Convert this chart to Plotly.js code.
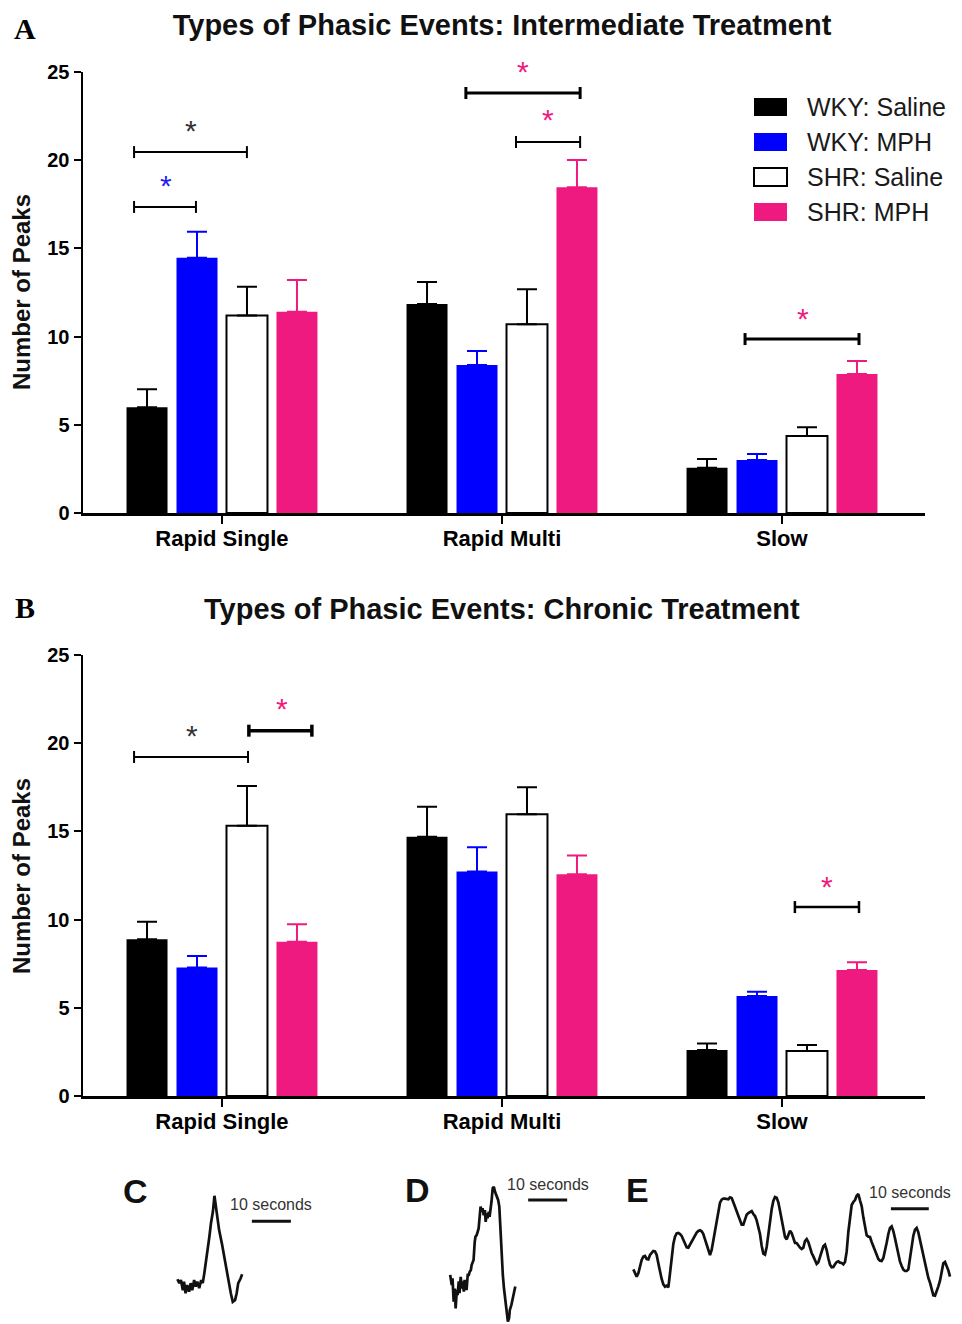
<!DOCTYPE html>
<html>
<head>
<meta charset="utf-8">
<script src="https://cdn.plot.ly/plotly-3.0.1.min.js"></script>
<style>html,body{margin:0;padding:0;background:#fff;}#chart{width:962px;height:1324px;}</style>
</head>
<body>
<div id="chart"></div>
<script>
// ---------------- DATA ----------------
const categories = ['Rapid Single', 'Rapid Multi', 'Slow'];
const seriesNames = ['WKY: Saline', 'WKY: MPH', 'SHR: Saline', 'SHR: MPH'];
const yTicks = [0, 5, 10, 15, 20, 25];

// Panel A: intermediate treatment (mean, upper SEM)
const interWkySaline = [6.0, 11.85, 2.57];
const interWkySalineErr = [1.01, 1.25, 0.49];
const interWkyMph = [14.47, 8.39, 3.0];
const interWkyMphErr = [1.48, 0.79, 0.34];
const interShrSaline = [11.19, 10.7, 4.37];
const interShrSalineErr = [1.64, 1.98, 0.49];
const interShrMph = [11.41, 18.46, 7.88];
const interShrMphErr = [1.8, 1.55, 0.74];

// Panel B: chronic treatment
const chronWkySaline = [8.88, 14.7, 2.61];
const chronWkySalineErr = [1.0, 1.7, 0.36];
const chronWkyMph = [7.29, 12.72, 5.67];
const chronWkyMphErr = [0.65, 1.38, 0.24];
const chronShrSaline = [15.32, 15.97, 2.55];
const chronShrSalineErr = [2.25, 1.53, 0.34];
const chronShrMph = [8.75, 12.57, 7.14];
const chronShrMphErr = [0.98, 1.07, 0.44];

// Example traces (time in seconds, signal in arbitrary units)
const cTime = [0.1,0.6,1.0,1.5,1.8,2.2,2.6,3.1,3.5,3.9,4.4,4.8,5.2,5.7,6.2,6.6,7.0,7.4,7.9,8.3,8.7,9.2,9.6,9.9,10.3,10.8,11.5,12.1,12.6,13.2,13.8,14.3,14.9,15.3,15.7,16.3,16.7];
const cSignal = [6.6,5.6,6.4,3.8,6.0,3.0,5.1,3.4,5.6,3.8,6.4,4.7,6.0,4.3,6.4,5.6,8.1,10.7,14.1,17.5,20.9,23.9,28.0,25.6,22.6,19.2,15.8,12.4,9.0,5.6,3.0,0.8,1.3,3.0,5.6,6.8,7.9];

const dTime = [0.3,0.7,0.9,1.2,1.5,1.7,2.0,2.2,2.5,2.7,3.0,3.3,3.5,3.8,4.0,4.3,4.5,4.8,5.1,5.3,5.6,5.8,6.1,6.3,6.6,6.8,7.1,7.4,7.6,7.9,8.1,8.4,8.6,8.9,9.2,9.4,9.7,9.9,10.2,10.4,10.7,10.9,11.2,11.5,11.8,12.2,12.6,12.9,13.1,13.3,13.6,13.8,14.1,14.4,14.6,14.9,15.1,15.4,15.6,16.0,16.3,16.7,17.0];
const dSignal = [12.6,10.0,11.7,5.7,9.1,4.0,8.7,7.4,10.9,7.9,12.1,9.1,10.9,8.3,11.3,9.6,8.7,12.6,12.6,13.4,13.8,15.1,16.0,16.4,21.1,22.4,22.8,23.7,24.5,27.9,30.1,28.8,29.7,27.9,29.2,26.2,28.4,27.1,28.8,27.5,29.7,31.4,34.8,35.2,33.9,32.6,31.8,30.1,25.4,21.1,16.8,12.6,9.1,6.6,4.0,1.9,0.6,1.5,3.6,4.9,6.6,8.7,9.6];

const eTime = [0,0.44,0.88,1.32,1.76,2.2,2.64,3.08,3.52,3.96,
4.4,4.84,5.28,5.72,6.16,6.6,7.04,7.48,7.92,8.36,
8.8,9.24,9.68,10.12,10.56,11,11.44,11.88,12.32,12.76,
13.2,13.64,14.08,14.52,14.96,15.4,15.84,16.28,16.72,17.16,
17.6,18.04,18.48,18.92,19.36,19.8,20.24,20.68,21.12,21.56,
22,22.44,22.88,23.32,23.76,24.2,24.64,25.08,25.52,25.96,
26.4,26.84,27.28,27.72,28.16,28.6,29.04,29.48,29.92,30.36,
30.8,31.24,31.68,32.12,32.56,33,33.44,33.88,34.32,34.76,
35.2,35.64,36.08,36.52,36.96,37.4,37.84,38.28,38.72,39.16,
39.6,40.04,40.48,40.92,41.36,41.8,42.24,42.68,43.12,43.56,
44,44.44,44.88,45.32,45.76,46.2,46.64,47.08,47.52,47.96,
48.4,48.84,49.28,49.72,50.16,50.6,51.04,51.48,51.92,52.36,
52.8,53.24,53.68,54.12,54.56,55,55.44,55.88,56.32,56.76,
57.2,57.64,58.08,58.52,58.96,59.4,59.84,60.28,60.72,61.16,
61.6,62.04,62.48,62.92,63.36,63.8,64.24,64.68,65.12,65.56,
66,66.44,66.88,67.32,67.76,68.2,68.64,69.08,69.52,69.96,
70.4,70.84,71.28,71.72,72.16,72.6,73.04,73.48,73.92,74.36,
74.8,75.24,75.68,76.12,76.56,77,77.44,77.88,78.32,78.76,
79.2,79.64,80.08,80.52,80.96,81.4,81.84,82.28,82.72,83.16,
83.6];
const eSignal = [9.2,7.8,7.0,8.0,10.5,12.0,13.0,13.2,12.3,12.2,
13.5,14.2,14.7,14.6,13.5,11.0,8.5,6.3,4.7,4.0,
4.3,3.8,8.0,13.2,16.8,19.0,20.0,20.1,19.8,19.2,
17.9,16.6,15.8,15.7,16.7,17.6,18.3,19.3,20.2,20.7,
20.9,20.6,19.8,18.2,16.4,14.5,13.5,15.0,17.8,21.4,
24.5,27.0,29.2,30.1,30.4,30.4,30.4,30.2,30.8,30.6,
29.3,27.9,26.6,25.4,23.9,22.6,22.6,24.1,25.6,26.1,
26.5,26.7,25.8,25.2,23.9,22.2,19.8,16.3,13.9,13.6,
15.9,19.6,23.6,27.2,29.7,30.9,30.7,29.3,26.8,23.8,
21.0,18.9,18.2,19.5,20.8,20.1,18.7,17.1,17.1,16.3,
15.7,15.3,15.7,17.7,18.3,17.4,15.7,14.1,13.1,11.9,
10.8,11.3,13.1,14.6,16.1,16.6,15.0,12.5,10.6,9.8,
9.9,10.7,11.4,11.6,11.2,11.1,10.7,11.4,14.5,20.4,
25.4,28.5,29.4,30.0,31.3,31.8,29.9,28.2,24.8,21.8,
19.4,19.0,18.9,17.4,16.1,14.7,13.1,12.3,11.8,11.7,
12.6,14.5,17.2,19.8,21.6,22.1,20.7,18.5,16.0,13.5,
11.5,10.2,9.1,8.7,8.7,9.2,12.3,16.4,19.3,21.1,
21.6,20.3,18.0,15.3,12.5,10.2,8.2,6.6,5.2,3.0,
1.4,1.3,2.5,4.1,5.8,8.8,11.0,11.4,10.3,8.9,
7.0];

// ---------------- STYLE / LAYOUT ----------------
const W = 962, H = 1324;
const px = v => v / W;            // pixel x -> paper
const py = v => 1 - v / H;        // pixel y -> paper
const SANS = '"Liberation Sans", Arial, Helvetica, sans-serif';
const SERIF = '"Liberation Serif", "Times New Roman", serif';
const BLACK = '#000000', BLUE = '#0000FF', PINK = '#EF1A7F';
const fills = [BLACK, BLUE, '#FFFFFF', PINK];
const errColors = [BLACK, BLUE, BLACK, PINK];
const outlineW = [0, 0, 2, 0];

const panelA = [[interWkySaline, interWkySalineErr], [interWkyMph, interWkyMphErr], [interShrSaline, interShrSalineErr], [interShrMph, interShrMphErr]];
const panelB = [[chronWkySaline, chronWkySalineErr], [chronWkyMph, chronWkyMphErr], [chronShrSaline, chronShrSalineErr], [chronShrMph, chronShrMphErr]];

const traces = [];
function addBars(panel, xa, ya) {
  panel.forEach((s, i) => {
    traces.push({
      type: 'bar', x: categories, y: s[0], name: seriesNames[i],
      xaxis: xa, yaxis: ya, showlegend: false,
      marker: { color: fills[i], line: { color: BLACK, width: outlineW[i] } },
      error_y: { type: 'data', symmetric: false, array: s[1], arrayminus: s[1].map(() => 0),
                 color: errColors[i], thickness: 2, width: 10 },
      hoverinfo: 'skip'
    });
  });
}
addBars(panelA, 'x', 'y');
addBars(panelB, 'x2', 'y2');

const lineStyle = { color: '#111111', width: 2.7 };
traces.push({ type: 'scatter', mode: 'lines', x: cTime, y: cSignal, xaxis: 'x3', yaxis: 'y3', line: lineStyle, showlegend: false, hoverinfo: 'skip' });
traces.push({ type: 'scatter', mode: 'lines', x: dTime, y: dSignal, xaxis: 'x4', yaxis: 'y4', line: lineStyle, showlegend: false, hoverinfo: 'skip' });
traces.push({ type: 'scatter', mode: 'lines', x: eTime, y: eSignal, xaxis: 'x5', yaxis: 'y5', line: lineStyle, showlegend: false, hoverinfo: 'skip' });

// bar chart axes
const xRange = [-0.4964, 2.5107];
function barX(anchor) {
  return {
    type: 'category', categoryorder: 'array', categoryarray: categories,
    domain: [px(83), px(925)], range: xRange, anchor: anchor,
    showline: true, linecolor: BLACK, linewidth: 2.5, showgrid: false, zeroline: false,
    ticks: 'outside', ticklen: 8, tickwidth: 2, tickcolor: BLACK, ticklabelstandoff: -4,
    tickfont: { family: SANS, size: 22, weight: 'bold', color: BLACK }, fixedrange: true
  };
}
function barY(top, bottom, anchor) {
  return {
    domain: [py(bottom), py(top)], range: [0, 25], anchor: anchor,
    tickvals: yTicks, showline: true, linecolor: BLACK, linewidth: 2.5, showgrid: false, zeroline: false,
    ticks: 'outside', ticklen: 7, tickwidth: 2, tickcolor: BLACK,
    tickfont: { family: SANS, size: 20, weight: 'bold', color: BLACK }, fixedrange: true
  };
}
// hidden axes for example traces: pixel placement via origin + scale
function hidX(left, right, origin, ppu) {
  return { domain: [px(left), px(right)], range: [(left - origin) / ppu, (right - origin) / ppu], visible: false, fixedrange: true };
}
function hidY(top, bottom, origin, ppu, anchor) {
  return { domain: [Math.max(0, py(bottom)), py(top)], range: [(origin - bottom) / ppu, (origin - top) / ppu], visible: false, anchor: anchor, fixedrange: true };
}

const shapes = [];
const annotations = [];

// significance brackets (data units)
const bracketsA = [
  { x0: -0.314, x1: 0.089, y: 20.46, w: 2 },
  { x0: -0.314, x1: -0.093, y: 17.35, w: 2 },
  { x0: 0.871, x1: 1.279, y: 23.81, w: 3 },
  { x0: 1.05, x1: 1.279, y: 21.03, w: 2 },
  { x0: 1.868, x1: 2.275, y: 9.86, w: 3 }
];
const bracketsB = [
  { x0: -0.314, x1: 0.093, y: 19.22, w: 2 },
  { x0: 0.096, x1: 0.321, y: 20.71, w: 3.5 },
  { x0: 2.046, x1: 2.275, y: 10.71, w: 2.5 }
];
const starsA = [
  { x: -0.111, y: 21.66, c: '#333333' },
  { x: -0.2, y: 18.59, c: '#1F1FF0' },
  { x: 1.075, y: 25.0, c: PINK },
  { x: 1.164, y: 22.28, c: PINK },
  { x: 2.075, y: 11.05, c: PINK }
];
const starsB = [
  { x: -0.107, y: 20.46, c: '#333333' },
  { x: 0.214, y: 21.94, c: PINK },
  { x: 2.161, y: 11.9, c: PINK }
];
function addBrackets(list, xr, yr) {
  const h = 0.34;
  list.forEach(b => {
    const ln = { color: BLACK, width: b.w };
    shapes.push({ type: 'line', xref: xr, yref: yr, x0: b.x0, x1: b.x1, y0: b.y, y1: b.y, line: ln });
    shapes.push({ type: 'line', xref: xr, yref: yr, x0: b.x0, x1: b.x0, y0: b.y - h, y1: b.y + h, line: ln });
    shapes.push({ type: 'line', xref: xr, yref: yr, x0: b.x1, x1: b.x1, y0: b.y - h, y1: b.y + h, line: ln });
  });
}
function addStars(list, xr, yr) {
  list.forEach(s => annotations.push({ xref: xr, yref: yr, x: s.x, y: s.y, text: '*', showarrow: false,
    xanchor: 'center', yanchor: 'middle', font: { family: SANS, size: 30, color: s.c } }));
}
addBrackets(bracketsA, 'x', 'y');
addBrackets(bracketsB, 'x2', 'y2');
addStars(starsA, 'x', 'y');
addStars(starsB, 'x2', 'y2');

// legend (manual, large swatches)
const legendRows = [107, 142, 177, 212];
seriesNames.forEach((n, i) => {
  shapes.push({ type: 'rect', xref: 'paper', yref: 'paper', x0: px(754), x1: px(787),
    y0: py(legendRows[i] - 9), y1: py(legendRows[i] + 9),
    fillcolor: fills[i], line: { color: i === 2 ? BLACK : fills[i], width: i === 2 ? 2 : 0 } });
  annotations.push({ xref: 'paper', yref: 'paper', x: px(805), y: py(legendRows[i]), text: n, showarrow: false,
    xanchor: 'left', yanchor: 'middle', font: { family: SANS, size: 25, color: '#1a1a1a' } });
});

// panel titles/labels
annotations.push({ xref: 'paper', yref: 'paper', x: px(502), y: py(609), text: 'Types of Phasic Events: Chronic Treatment',
  showarrow: false, xanchor: 'center', yanchor: 'middle', font: { family: SANS, size: 29, weight: 'bold', color: '#111' } });
annotations.push({ xref: 'paper', yref: 'paper', x: px(25), y: py(28), text: 'A', showarrow: false,
  xanchor: 'center', yanchor: 'middle', font: { family: SERIF, size: 30, weight: 'bold', color: BLACK } });
annotations.push({ xref: 'paper', yref: 'paper', x: px(25), y: py(608), text: 'B', showarrow: false,
  xanchor: 'center', yanchor: 'middle', font: { family: SERIF, size: 30, weight: 'bold', color: BLACK } });
[292, 876].forEach(cy => annotations.push({ xref: 'paper', yref: 'paper', x: px(21), y: py(cy), text: 'Number of Peaks',
  textangle: -90, showarrow: false, xanchor: 'center', yanchor: 'middle', font: { family: SANS, size: 24, weight: 'bold', color: '#111' } }));
[['C', 135, 1191], ['D', 417, 1190], ['E', 637, 1190]].forEach(l => annotations.push({ xref: 'paper', yref: 'paper',
  x: px(l[1]), y: py(l[2]), text: l[0], showarrow: false, xanchor: 'center', yanchor: 'middle',
  font: { family: SANS, size: 34, weight: 'bold', color: '#111' } }));

// 10-second scale bars (in each trace's time units)
const scaleBars = [
  { xr: 'x3', yr: 'y3', t0: 19.2, y: 21.5, ty: 25.8 },
  { xr: 'x4', yr: 'y4', t0: 20.3, y: 31.8, ty: 35.8 },
  { xr: 'x5', yr: 'y5', t0: 68.0, y: 27.4, ty: 32.2 }
];
scaleBars.forEach(s => {
  shapes.push({ type: 'line', xref: s.xr, yref: s.yr, x0: s.t0, x1: s.t0 + 10, y0: s.y, y1: s.y, line: { color: '#111', width: 3 } });
  annotations.push({ xref: s.xr, yref: s.yr, x: s.t0 + 5, y: s.ty, text: '10 seconds', showarrow: false,
    xanchor: 'center', yanchor: 'middle', font: { family: SANS, size: 16, color: '#333' } });
});

const layout = {
  width: W, height: H, margin: { l: 0, r: 0, t: 0, b: 0 },
  paper_bgcolor: '#FFFFFF', plot_bgcolor: 'rgba(0,0,0,0)',
  barmode: 'group', bargap: 0.286, bargroupgap: 0.18, showlegend: false,
  title: { text: 'Types of Phasic Events: Intermediate Treatment', x: px(502), xanchor: 'center',
           y: py(25), yanchor: 'middle', font: { family: SANS, size: 29, weight: 'bold', color: '#111' } },
  xaxis: barX('y'), yaxis: barY(72, 513, 'x'),
  xaxis2: barX('y2'), yaxis2: barY(655, 1096, 'x2'),
  xaxis3: hidX(170, 300, 177, 3.9), yaxis3: hidY(1180, 1315, 1305, 3.9, 'x3'),
  xaxis4: hidX(440, 600, 449, 3.9), yaxis4: hidY(1175, 1324, 1324, 3.9, 'x4'),
  xaxis5: hidX(625, 962, 633.33, 3.788), yaxis5: hidY(1175, 1310, 1300, 3.333, 'x5'),
  shapes: shapes, annotations: annotations
};

Plotly.newPlot('chart', traces, layout, { displayModeBar: false, staticPlot: true });
</script>
</body>
</html>
